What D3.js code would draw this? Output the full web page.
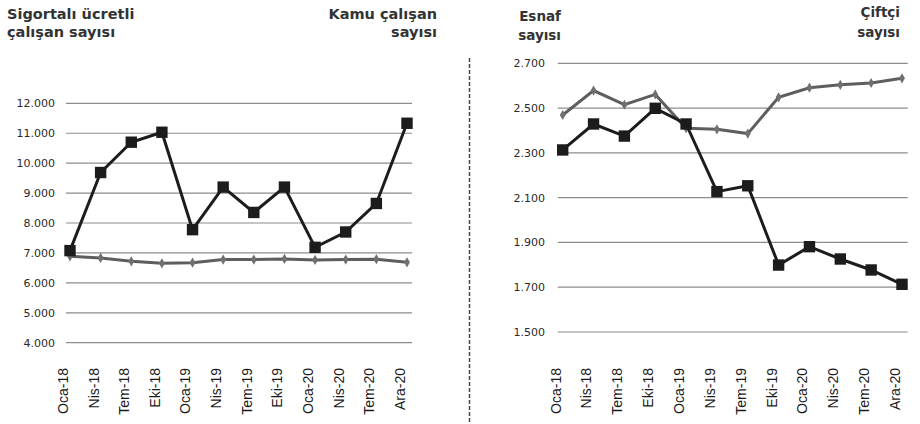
<!DOCTYPE html>
<html>
<head>
<meta charset="utf-8">
<script src="https://cdn.jsdelivr.net/npm/d3@7"></script>
<style>
body{margin:0;background:#fff}
svg{display:block}
</style>
</head>
<body>
<div id="chart"></div>
<script>
const months=["Oca-18","Nis-18","Tem-18","Eki-18","Oca-19","Nis-19","Tem-19","Eki-19","Oca-20","Nis-20","Tem-20","Ara-20"]

// left panel (thousands)
const sigortali=[7077,9687,10700,11033,7777,9200,8353,9200,7187,7700,8653,11333]
const kamu=[6887,6833,6720,6653,6673,6777,6777,6800,6767,6777,6790,6687]
const leftTicks=[4000,5000,6000,7000,8000,9000,10000,11000,12000]

// right panel (thousands)
const esnaf=[2313,2429,2375,2499,2429,2127,2153,1799,1881,1826,1777,1713]
const ciftci=[2469,2578,2515,2561,2410,2405,2386,2548,2591,2604,2612,2633]
const rightTicks=[1500,1700,1900,2100,2300,2500,2700]

const width=920
const height=424

const svg=d3.select("#chart")
.append("svg")
.attr("width",width)
.attr("height",height)

const fmt=v=>d3.format(",")(v).replace(/,/g,".")

function panel(opt){
  const x=d3.scalePoint()
  .domain(months)
  .range(opt.xr)

  const y=d3.scaleLinear()
  .domain(opt.yd)
  .range(opt.yr)

  // gridlines
  svg.append("g")
    .selectAll("line")
    .data(opt.ticks)
    .join("line")
    .attr("x1",opt.gx[0])
    .attr("x2",opt.gx[1])
    .attr("y1",d=>y(d))
    .attr("y2",d=>y(d))
    .attr("stroke","#8c8c8c")
    .attr("stroke-width",1.2)

  // y labels
  svg.append("g")
    .selectAll("text")
    .data(opt.ticks)
    .join("text")
    .attr("x",opt.lx)
    .attr("y",d=>y(d))
    .attr("dy","0.35em")
    .attr("text-anchor","end")
    .style("font-family","DejaVu Sans")
    .style("font-size","11px")
    .attr("fill","#2a2a2a")
    .text(fmt)

  // x labels
  svg.append("g")
    .selectAll("text")
    .data(months)
    .join("text")
    .attr("transform",d=>`translate(${x(d)-7},368) rotate(-90)`)
    .attr("dy","0.35em")
    .attr("text-anchor","end")
    .style("font-family","Liberation Sans")
    .style("font-size","14px")
    .attr("fill","#1a1a1a")
    .text(d=>d)

  const line=d3.line()
  .x((d,i)=>x(months[i]))
  .y(d=>y(d))

  // diamond series
  svg.append("path")
    .datum(opt.light)
    .attr("d",line)
    .attr("fill","none")
    .attr("stroke","#5e5e5e")
    .attr("stroke-width",3)

  svg.append("g")
    .selectAll("path")
    .data(opt.light)
    .join("path")
    .attr("transform",(d,i)=>`translate(${x(months[i])},${y(d)})`)
    .attr("d",d3.symbol(d3.symbolDiamond,30))
    .attr("fill","#707070")

  // square series
  svg.append("path")
    .datum(opt.dark)
    .attr("d",line)
    .attr("fill","none")
    .attr("stroke","#1c1c1c")
    .attr("stroke-width",3)

  svg.append("g")
    .selectAll("path")
    .data(opt.dark)
    .join("path")
    .attr("transform",(d,i)=>`translate(${x(months[i])},${y(d)})`)
    .attr("d",d3.symbol(d3.symbolSquare,130))
    .attr("fill","#1c1c1c")
}

panel({
  xr:[70,407],
  yd:[4000,12000],
  yr:[342.7,103.3],
  gx:[66,412],
  lx:55,
  ticks:leftTicks,
  dark:sigortali,
  light:kamu
})

panel({
  xr:[562.7,902],
  yd:[1500,2700],
  yr:[332,63.3],
  gx:[557.7,907.7],
  lx:545,
  ticks:rightTicks,
  dark:esnaf,
  light:ciftci
})

// divider
svg.append("line")
  .attr("x1",469.5)
  .attr("x2",469.5)
  .attr("y1",58)
  .attr("y2",424)
  .attr("stroke","#444")
  .attr("stroke-width",1.5)
  .attr("stroke-dasharray","4,2")

// titles
const titles=[
  {t:"Sigortalı ücretli",x:7,y:19,a:"start",s:14.5},
  {t:"çalışan sayısı",x:7,y:37,a:"start",s:14.5},
  {t:"Kamu çalışan",x:437,y:19,a:"end",s:14.5},
  {t:"sayısı",x:437,y:37,a:"end",s:14.5},
  {t:"Esnaf",x:561,y:21,a:"end",s:13.5},
  {t:"sayısı",x:561,y:40,a:"end",s:13.5},
  {t:"Çiftçi",x:900,y:17,a:"end",s:13.5},
  {t:"sayısı",x:900,y:37,a:"end",s:13.5}
]

svg.append("g")
  .selectAll("text")
  .data(titles)
  .join("text")
  .attr("x",d=>d.x)
  .attr("y",d=>d.y)
  .attr("text-anchor",d=>d.a)
  .style("font-family","DejaVu Sans")
  .style("font-weight","bold")
  .style("font-size",d=>d.s+"px")
  .attr("fill","#333")
  .text(d=>d.t)
</script>
</body>
</html>
